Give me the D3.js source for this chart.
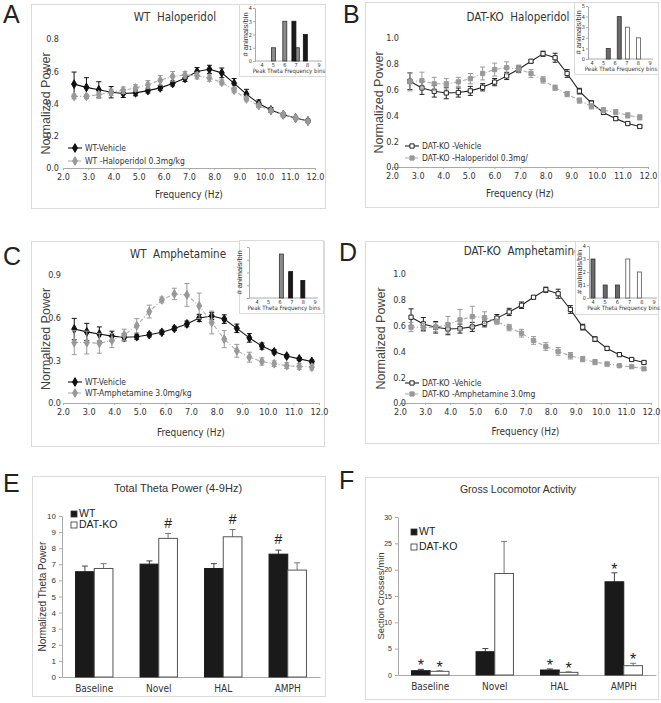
<!DOCTYPE html>
<html>
<head>
<meta charset="utf-8">
<script src="https://cdn.jsdelivr.net/npm/d3@7"></script>
<style>
  body { margin: 0; background: #fff; }
  text { white-space: pre; }
</style>
</head>
<body>
<svg id="fig" width="661" height="703"></svg>
<script>
// spectra: frequency bins and normalized power (mean, sem)
var freq = [2.44, 2.93, 3.42, 3.91, 4.39, 4.88, 5.37, 5.86, 6.35, 6.84, 7.32, 7.81, 8.30, 8.79, 9.28, 9.77, 10.25, 10.74, 11.23, 11.72];
var freqB = [2.70, 3.17, 3.65, 4.12, 4.59, 5.06, 5.54, 6.01, 6.48, 6.95, 7.43, 7.90, 8.37, 8.84, 9.32, 9.79, 10.26, 10.74, 11.21, 11.68];

var wtVeh = [0.52, 0.50, 0.485, 0.47, 0.462, 0.466, 0.48, 0.497, 0.524, 0.556, 0.598, 0.612, 0.59, 0.525, 0.458, 0.40, 0.36, 0.33, 0.31, 0.292];
var wtVehErr = [0.075, 0.06, 0.05, 0.035, 0.025, 0.018, 0.015, 0.015, 0.015, 0.02, 0.025, 0.025, 0.03, 0.03, 0.03, 0.022, 0.015, 0.012, 0.01, 0.01];
var wtHal = [0.444, 0.444, 0.455, 0.469, 0.482, 0.496, 0.517, 0.544, 0.568, 0.577, 0.573, 0.558, 0.531, 0.482, 0.428, 0.387, 0.355, 0.331, 0.31, 0.289];
var wtHalErr = [0.015, 0.012, 0.015, 0.02, 0.02, 0.02, 0.025, 0.03, 0.03, 0.02, 0.02, 0.02, 0.015, 0.015, 0.012, 0.01, 0.01, 0.01, 0.01, 0.01];
var wtAmph = [0.425, 0.425, 0.42, 0.44, 0.479, 0.543, 0.643, 0.725, 0.767, 0.76, 0.683, 0.566, 0.449, 0.367, 0.322, 0.292, 0.276, 0.262, 0.257, 0.252];
var wtAmphErr = [0.085, 0.08, 0.07, 0.05, 0.04, 0.05, 0.045, 0.02, 0.04, 0.08, 0.09, 0.08, 0.06, 0.045, 0.035, 0.025, 0.02, 0.02, 0.02, 0.02];

var koVeh = [0.665, 0.613, 0.587, 0.574, 0.577, 0.59, 0.618, 0.658, 0.706, 0.758, 0.82, 0.878, 0.847, 0.725, 0.588, 0.495, 0.423, 0.375, 0.337, 0.314];
var koVehErr = [0.065, 0.05, 0.045, 0.045, 0.035, 0.035, 0.028, 0.028, 0.028, 0.025, 0.012, 0.02, 0.035, 0.03, 0.022, 0.018, 0.012, 0.01, 0.01, 0.01];
var koHal = [0.66, 0.67, 0.645, 0.645, 0.66, 0.685, 0.725, 0.755, 0.77, 0.76, 0.725, 0.675, 0.615, 0.565, 0.515, 0.47, 0.44, 0.425, 0.40, 0.385];
var koHalErr = [0.07, 0.065, 0.05, 0.04, 0.035, 0.04, 0.05, 0.05, 0.045, 0.03, 0.03, 0.025, 0.02, 0.02, 0.02, 0.02, 0.02, 0.02, 0.02, 0.02];
var koAmph = [0.588, 0.585, 0.588, 0.606, 0.644, 0.67, 0.662, 0.631, 0.585, 0.541, 0.485, 0.438, 0.40, 0.366, 0.34, 0.317, 0.302, 0.289, 0.281, 0.265];
var koAmphErr = [0.035, 0.03, 0.035, 0.065, 0.08, 0.08, 0.045, 0.02, 0.025, 0.03, 0.03, 0.03, 0.03, 0.025, 0.02, 0.02, 0.015, 0.01, 0.01, 0.01];

// insets: peak theta frequency histograms
var peakBins = [4, 5, 6, 7, 8, 9];
var binsHalA = [5, 6, 7.1], countsHalA = [1, 3, 1];
var binsVehA = [6.8, 7.8], countsVehA = [3, 2];
var binsHalB = [5.4, 6.35], countsHalB = [1, 4];
var binsVehB = [7.05, 8.0], countsVehB = [3, 2];
var binsAmphC = [6.1], countsAmphC = [5];
var binsVehC = [6.9, 7.95], countsVehC = [3, 2];
var binsAmphD = [4, 5, 6], countsAmphD = [3, 1, 1];
var binsVehD = [6.85, 7.8], countsVehD = [3, 2];

// bar panels
var groups = ["Baseline", "Novel", "HAL", "AMPH"];
var thetaWT = [6.54, 7.01, 6.74, 7.63], thetaWTErr = [0.35, 0.2, 0.3, 0.25];
var thetaKO = [6.74, 8.61, 8.71, 6.64], thetaKOErr = [0.3, 0.3, 0.45, 0.45];
var thetaSigWT = [0, 0, 0, 1], thetaSigKO = [0, 1, 1, 0];
var locoWT = [0.82, 4.42, 0.95, 17.7], locoWTErr = [0.25, 0.6, 0.2, 1.7];
var locoKO = [0.7, 19.27, 0.5, 1.77], locoKOErr = [0.1, 6.1, 0.1, 0.45];
var locoSigWT = [1, 0, 1, 1], locoSigKO = [1, 0, 1, 1];

var svg = d3.select("#fig");
var narrow = '"DejaVu Sans Condensed","Liberation Sans Narrow",sans-serif';
var plain = '"Liberation Sans",Arial,sans-serif';

function frame(b) {
  svg.append("rect")
    .attr("x", b[0] + 0.5).attr("y", b[1] + 0.5)
    .attr("width", b[2] - b[0]).attr("height", b[3] - b[1])
    .attr("fill", "#fff").attr("stroke", "#dadada");
}

function label(t, x, y, size, font, anchor) {
  return svg.append("text")
    .attr("x", x).attr("y", y)
    .attr("font-family", font).attr("font-size", size)
    .attr("text-anchor", anchor || "start")
    .attr("fill", "#222")
    .text(t);
}

function styleAxis(a, size) {
  a.selectAll("path, line").attr("stroke", "#aaa");
  a.selectAll("text").attr("font-family", narrow).attr("font-size", size).attr("fill", "#333");
}

function inset(p) {
  frame(p.box);
  var g = svg.append("g");
  var x = d3.scaleLinear().domain([4, 9]).range(p.xr);
  var y = d3.scaleLinear().domain([0, p.ymax]).range(p.yr);

  var ya = g.append("g").attr("transform", "translate(" + p.ax + ",0)")
    .call(d3.axisLeft(y).tickValues(p.yticks).tickSize(2).tickPadding(1).tickSizeOuter(0)
      .tickFormat(p.ylabels ? d3.format("d") : ""));
  styleAxis(ya, 5.5);
  g.append("line")
    .attr("x1", p.ax).attr("x2", x(9) + 3)
    .attr("y1", p.yr[0]).attr("y2", p.yr[0])
    .attr("stroke", "#aaa");
  g.selectAll(".bin").data(peakBins).join("text")
    .attr("x", function(d) { return x(d); })
    .attr("y", p.yr[0] + 6)
    .attr("text-anchor", "middle")
    .attr("font-family", narrow).attr("font-size", 5.5).attr("fill", "#333")
    .text(function(d) { return d; });
  g.append("text")
    .attr("x", (p.ax + x(9)) / 2 + 2).attr("y", p.yr[0] + 11.5)
    .attr("text-anchor", "middle")
    .attr("font-family", narrow).attr("font-size", 6).attr("fill", "#333")
    .text("Peak Theta Frequency bins");
  g.append("text")
    .attr("transform", "translate(" + (p.ax - 7) + "," + ((p.yr[0] + p.yr[1]) / 2) + ") rotate(-90)")
    .attr("text-anchor", "middle")
    .attr("font-family", plain).attr("font-size", 7.5).attr("fill", "#333")
    .text("# animals/bin");

  p.sets.forEach(function(s) {
    var d = s.bins.map(function(b, i) { return {b: b, c: s.counts[i]}; });
    g.append("g").selectAll("rect").data(d).join("rect")
      .attr("x", function(d) { return x(d.b) - 2; })
      .attr("y", function(d) { return y(d.c); })
      .attr("width", 4)
      .attr("height", function(d) { return y(0) - y(d.c); })
      .attr("fill", s.fill).attr("stroke", s.stroke).attr("stroke-width", 0.8);
  });
}

function linePanel(p) {
  frame(p.box);
  label(p.letter, p.lx, p.ly, 25, plain);
  label(p.title, p.tx, p.ty, 11.5, narrow, "middle").attr("fill", "#333");

  var g = svg.append("g");
  var x = d3.scaleLinear().domain([2, 12]).range(p.xr);
  var y = d3.scaleLinear().domain([0, p.ymax]).range(p.yr);

  var xa = g.append("g").attr("transform", "translate(0," + p.yr[0] + ")")
    .call(d3.axisBottom(x).tickValues(d3.range(2, 12.01, 1)).tickFormat(d3.format(".1f"))
      .tickSize(2).tickPadding(4).tickSizeOuter(0));
  var ya = g.append("g").attr("transform", "translate(" + p.yax + ",0)")
    .call(d3.axisLeft(y).tickValues(p.yticks).tickFormat(d3.format(".1f"))
      .tickSize(0).tickPadding(3).tickSizeOuter(0));
  styleAxis(xa, 9);
  styleAxis(ya, 9);
  ya.select(".domain").attr("stroke", "none");

  g.append("text")
    .attr("transform", "translate(" + p.ylx + "," + ((p.yr[0] + p.yr[1]) / 2) + ") rotate(-90)")
    .attr("text-anchor", "middle")
    .attr("font-family", plain).attr("font-size", 12.5).attr("fill", "#444")
    .text("Normalized Power");
  label("Frequency (Hz)", (p.xr[0] + p.xr[1]) / 2, p.xly, 10, narrow, "middle").attr("fill", "#333");

  p.series.forEach(function(s) {
    var pts = s.xs.map(function(f, i) { return {f: f, v: s.values[i], e: s.err[i]}; });
    g.append("path").datum(pts)
      .attr("d", d3.line().x(function(d) { return x(d.f); }).y(function(d) { return y(d.v); }))
      .attr("fill", "none").attr("stroke", s.line).attr("stroke-width", 1.1)
      .attr("stroke-dasharray", s.dash);
    var eb = g.append("g").attr("stroke", s.bar).attr("stroke-width", 1)
      .selectAll("g").data(pts).join("g");
    eb.append("line")
      .attr("x1", function(d) { return x(d.f); }).attr("x2", function(d) { return x(d.f); })
      .attr("y1", function(d) { return y(d.v - d.e); }).attr("y2", function(d) { return y(d.v + d.e); });
    [-1, 1].forEach(function(k) {
      eb.append("line")
        .attr("x1", function(d) { return x(d.f) - 2.5; }).attr("x2", function(d) { return x(d.f) + 2.5; })
        .attr("y1", function(d) { return y(d.v + k * d.e); }).attr("y2", function(d) { return y(d.v + k * d.e); });
    });
    g.append("g").selectAll("path").data(pts).join("path")
      .attr("transform", function(d) { return "translate(" + x(d.f) + "," + y(d.v) + ")"; })
      .attr("d", d3.symbol().type(s.symbol).size(s.size))
      .attr("fill", s.fill).attr("stroke", s.stroke).attr("stroke-width", 1);
  });

  // legend
  p.series.forEach(function(s, i) {
    var ly = p.legend[1] + i * p.legend[2];
    g.append("line")
      .attr("x1", p.legend[0]).attr("x2", p.legend[0] + 14)
      .attr("y1", ly).attr("y2", ly)
      .attr("stroke", s.line).attr("stroke-width", 1.1).attr("stroke-dasharray", s.dash);
    g.append("path")
      .attr("transform", "translate(" + (p.legend[0] + 7) + "," + ly + ")")
      .attr("d", d3.symbol().type(s.symbol).size(s.size))
      .attr("fill", s.fill).attr("stroke", s.stroke);
    label(s.label, p.legend[0] + 17, ly + 3, 8.5, narrow).attr("fill", "#333");
  });

  inset(p.inset);
}

function series(xs, values, err, kind, text) {
  var st = {
    wtVeh: {line: "#111", bar: "#111", fill: "#111", stroke: "#111", symbol: d3.symbolDiamond, size: 22, dash: null},
    wtDrug: {line: "#aaa", bar: "#999", fill: "#999", stroke: "#999", symbol: d3.symbolDiamond, size: 22, dash: "4,2,1,2"},
    koVeh: {line: "#222", bar: "#222", fill: "#fff", stroke: "#222", symbol: d3.symbolSquare, size: 18, dash: null},
    koDrug: {line: "#aaa", bar: "#999", fill: "#999", stroke: "#999", symbol: d3.symbolSquare, size: 18, dash: "4,2,1,2"}
  }[kind];
  st.xs = xs; st.values = values; st.err = err; st.label = text;
  return st;
}

linePanel({
  letter: "A", lx: 3, ly: 23, title: "WT  Haloperidol", tx: 175, ty: 21,
  box: [31, 4, 325, 208], xr: [63, 315], yax: 62, yr: [168, 39], ymax: 0.8,
  yticks: [0, 0.2, 0.4, 0.6, 0.8], ylx: 50, xly: 198, legend: [68, 148, 13],
  series: [
    series(freq, wtVeh, wtVehErr, "wtVeh", "WT-Vehicle"),
    series(freq, wtHal, wtHalErr, "wtDrug", "WT -Haloperidol 0.3mg/kg")
  ],
  inset: {box: [239, 4, 325, 76], ax: 255, xr: [262, 319], yr: [61, 8], ymax: 4,
    yticks: [0, 1, 2, 3, 4], ylabels: true,
    sets: [
      {bins: binsHalA, counts: countsHalA, fill: "#8a8a8a", stroke: "#333"},
      {bins: binsVehA, counts: countsVehA, fill: "#1a1a1a", stroke: "#111"}
    ]}
});

linePanel({
  letter: "B", lx: 343, ly: 23, title: "DAT-KO  Haloperidol", tx: 518, ty: 21,
  box: [365, 2, 658, 207], xr: [392, 648], yax: 402, yr: [167, 38], ymax: 1.0,
  yticks: [0, 0.2, 0.4, 0.6, 0.8, 1.0], ylx: 383, xly: 197, legend: [405, 146, 12],
  series: [
    series(freqB, koVeh, koVehErr, "koVeh", "DAT-KO -Vehicle"),
    series(freqB, koHal, koHalErr, "koDrug", "DAT-KO -Haloperidol 0.3mg/")
  ],
  inset: {box: [574, 2, 658, 74], ax: 588, xr: [592, 650], yr: [59, 6], ymax: 5,
    yticks: [0, 1, 2, 3, 4, 5], ylabels: true,
    sets: [
      {bins: binsHalB, counts: countsHalB, fill: "#6a6a6a", stroke: "#333"},
      {bins: binsVehB, counts: countsVehB, fill: "#fff", stroke: "#555"}
    ]}
});

linePanel({
  letter: "C", lx: 3, ly: 265, title: "WT  Amphetamine", tx: 178, ty: 258,
  box: [31, 241, 324, 446], xr: [63, 319], yax: 64, yr: [403, 275], ymax: 0.9,
  yticks: [0, 0.3, 0.6, 0.9], ylx: 50, xly: 436, legend: [68, 382, 11],
  series: [
    series(freq, wtVeh, wtVehErr, "wtVeh", "WT-Vehicle"),
    series(freq, wtAmph, wtAmphErr, "wtDrug", "WT-Amphetamine 3.0mg/kg")
  ],
  inset: {box: [239, 240, 323, 313], ax: 249, xr: [257, 315], yr: [298, 247], ymax: 5.8,
    yticks: [0, 1.45, 2.9, 4.35, 5.8], ylabels: false,
    sets: [
      {bins: binsAmphC, counts: countsAmphC, fill: "#8a8a8a", stroke: "#333"},
      {bins: binsVehC, counts: countsVehC, fill: "#1a1a1a", stroke: "#111"}
    ]}
});

linePanel({
  letter: "D", lx: 339, ly: 261, title: "DAT-KO  Amphetamine", tx: 522, ty: 255,
  box: [365, 241, 658, 443], xr: [400, 651], yax: 409, yr: [403, 274], ymax: 1.0,
  yticks: [0, 0.2, 0.4, 0.6, 0.8, 1.0], ylx: 385, xly: 435, legend: [405, 383, 11],
  series: [
    series(freq, koVeh, koVehErr, "koVeh", "DAT-KO -Vehicle"),
    series(freq, koAmph, koAmphErr, "koDrug", "DAT-KO -Amphetamine 3.0mg")
  ],
  inset: {box: [575, 241, 658, 314], ax: 589, xr: [593, 654], yr: [298, 246], ymax: 4,
    yticks: [0, 1, 2, 3, 4], ylabels: true,
    sets: [
      {bins: binsAmphD, counts: countsAmphD, fill: "#6a6a6a", stroke: "#333"},
      {bins: binsVehD, counts: countsVehD, fill: "#fff", stroke: "#555"}
    ]}
});

function barPanel(p) {
  frame(p.box);
  label(p.letter, p.lx, p.ly, 25, plain);
  label(p.title, p.tx, p.ty, p.titleFont, plain, "middle").attr("fill", "#333");

  var g = svg.append("g");
  var x0 = d3.scaleBand().domain(groups).range(p.xr).paddingInner(0.42).paddingOuter(p.pad);
  var x1 = d3.scaleBand().domain(["WT", "KO"]).range([0, x0.bandwidth()]);
  var y = d3.scaleLinear().domain([0, p.ymax]).range(p.yr);

  var xa = g.append("g").attr("transform", "translate(0," + p.yr[0] + ")")
    .call(d3.axisBottom(x0).tickSize(0).tickPadding(8));
  var ya = g.append("g").attr("transform", "translate(" + p.xr[0] + ",0)")
    .call(d3.axisLeft(y).tickValues(p.yticks).tickSize(3).tickSizeOuter(0));
  styleAxis(xa, 10);
  styleAxis(ya, p.tickFont);
  ya.selectAll("text").attr("font-family", plain);

  g.append("text")
    .attr("transform", "translate(" + p.ylx + "," + ((p.yr[0] + p.yr[1]) / 2) + ") rotate(-90)")
    .attr("text-anchor", "middle")
    .attr("font-family", plain).attr("font-size", p.ylFont).attr("fill", "#333")
    .text(p.ylabel);

  var sets = [
    {key: "WT", v: p.wt, e: p.wtErr, sig: p.wtSig, fill: "#1a1a1a", stroke: "#1a1a1a", bar: "#444"},
    {key: "KO", v: p.ko, e: p.koErr, sig: p.koSig, fill: "#fff", stroke: "#555", bar: "#777"}
  ];
  sets.forEach(function(s) {
    var d = groups.map(function(grp, i) { return {g: grp, v: s.v[i], e: s.e[i], sig: s.sig[i]}; });
    var cx = function(d) { return x0(d.g) + x1(s.key) + x1.bandwidth() / 2; };
    g.append("g").attr("stroke", s.bar).selectAll("g").data(d).join("g")
      .each(function(d) {
        var el = d3.select(this);
        el.append("line").attr("x1", cx(d)).attr("x2", cx(d)).attr("y1", y(d.v)).attr("y2", y(d.v + d.e));
        el.append("line").attr("x1", cx(d) - 3).attr("x2", cx(d) + 3).attr("y1", y(d.v + d.e)).attr("y2", y(d.v + d.e));
      });
    g.append("g").selectAll("rect").data(d).join("rect")
      .attr("x", function(d) { return x0(d.g) + x1(s.key); })
      .attr("y", function(d) { return y(d.v); })
      .attr("width", x1.bandwidth())
      .attr("height", function(d) { return y(0) - y(d.v); })
      .attr("fill", s.fill).attr("stroke", s.stroke);
    g.append("g").selectAll("text").data(d.filter(function(d) { return d.sig; })).join("text")
      .attr("x", cx)
      .attr("y", function(d) { return y(d.v + d.e) - p.markGap; })
      .attr("text-anchor", "middle")
      .attr("font-family", plain).attr("font-size", p.markFont).attr("fill", "#222")
      .text(p.mark);
  });

  // legend
  [["WT", "#1a1a1a"], ["DAT-KO", "#fff"]].forEach(function(l, i) {
    var ly = p.legend[1] + i * p.legend[2];
    g.append("rect").attr("x", p.legend[0]).attr("y", ly - 6).attr("width", 6).attr("height", 6)
      .attr("fill", l[1]).attr("stroke", "#333").attr("stroke-width", 0.8);
    label(l[0], p.legend[0] + 8, ly, 10.5, plain);
  });
}

barPanel({
  letter: "E", lx: 3, ly: 492, title: "Total Theta Power (4-9Hz)", titleFont: 11, tx: 178, ty: 492,
  box: [32, 476, 325, 696], xr: [62, 320], pad: 0.21, yr: [677, 516], ymax: 10,
  yticks: d3.range(0, 11), tickFont: 8, ylabel: "Normalized Theta Power", ylx: 46, ylFont: 10,
  wt: thetaWT, wtErr: thetaWTErr, wtSig: thetaSigWT,
  ko: thetaKO, koErr: thetaKOErr, koSig: thetaSigKO,
  mark: "#", markFont: 14, markGap: 6, legend: [71, 517, 11]
});

barPanel({
  letter: "F", lx: 339, ly: 489, title: "Gross Locomotor Activity", titleFont: 10.5, tx: 518, ty: 493,
  box: [365, 477, 658, 699], xr: [398, 656], pad: 0.21, yr: [675, 517], ymax: 30,
  yticks: [0, 5, 10, 15, 20, 25, 30], tickFont: 7, ylabel: "Section Crosses/min", ylx: 384, ylFont: 9.5,
  wt: locoWT, wtErr: locoWTErr, wtSig: locoSigWT,
  ko: locoKO, koErr: locoKOErr, koSig: locoSigKO,
  mark: "*", markFont: 16, markGap: -2, legend: [411, 535, 15]
});
</script>
</body>
</html>
